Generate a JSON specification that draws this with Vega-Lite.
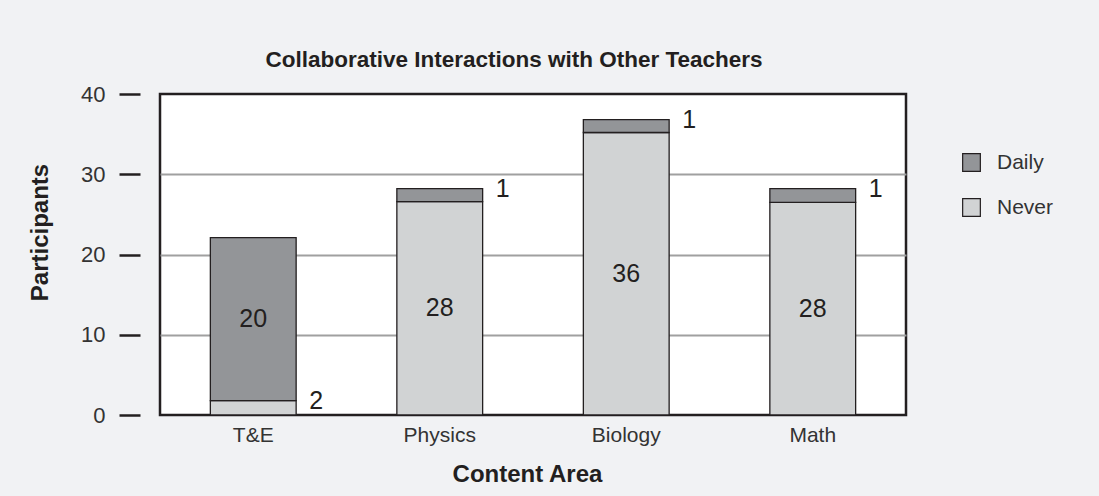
{
  "$schema": "https://vega.github.io/schema/vega-lite/v6.json",
  "autosize": {"type": "none"},
  "width": 746,
  "height": 321,
  "padding": {"left": 160, "top": 94, "right": 193, "bottom": 81},
  "background": "#f1f2f4",
  "config": {
    "view": {"fill": "#ffffff", "stroke": "#231f20", "strokeWidth": 2.5, "strokeOpacity": 1},
    "font": "Liberation Sans"
  },
  "title": {
    "text": "Collaborative Interactions with Other Teachers",
    "fontSize": 22.5,
    "fontWeight": "bold",
    "color": "#231f20",
    "anchor": "middle",
    "frame": "group",
    "baseline": "alphabetic",
    "offset": -6,
    "dx": -19
  },
  "data": {
    "values": [
      {"area": "T&E", "type": "Never", "value": 1.8, "label": "2"},
      {"area": "T&E", "type": "Daily", "value": 20.3, "label": "20"},
      {"area": "Physics", "type": "Never", "value": 26.6, "label": "28"},
      {"area": "Physics", "type": "Daily", "value": 1.6, "label": "1"},
      {"area": "Biology", "type": "Never", "value": 35.2, "label": "36"},
      {"area": "Biology", "type": "Daily", "value": 1.6, "label": "1"},
      {"area": "Math", "type": "Never", "value": 26.5, "label": "28"},
      {"area": "Math", "type": "Daily", "value": 1.7, "label": "1"}
    ]
  },
  "transform": [
    {"stack": "value", "groupby": ["area"], "sort": [{"field": "type", "order": "descending"}], "as": ["v0", "v1"]},
    {"calculate": "(datum.v0 + datum.v1) / 2", "as": "mid"}
  ],
  "layer": [
    {
      "mark": {"type": "bar", "stroke": "#231f20", "strokeWidth": 1.3},
      "encoding": {
        "x": {
          "field": "area", "type": "nominal", "sort": ["T&E", "Physics", "Biology", "Math"],
          "scale": {"paddingInner": 0.54, "paddingOuter": 0.27},
          "axis": {
            "title": "Content Area", "labelAngle": 0, "ticks": false, "domain": false,
            "labelFontSize": 21, "labelColor": "#333333", "labelPadding": 9,
            "titleFontSize": 24, "titleFontWeight": "bold", "titleColor": "#231f20", "titlePadding": 17,
            "titleX": 367
          }
        },
        "y": {
          "field": "v1", "type": "quantitative", "scale": {"domain": [0, 40]},
          "axis": {
            "title": "Participants", "values": [0, 10, 20, 30, 40], "offset": 20, "domain": false,
            "tickSize": 21, "tickWidth": 2.5, "tickColor": "#231f20",
            "labelFontSize": 22, "labelColor": "#333333", "labelPadding": 14,
            "grid": true, "gridColor": "#a0a0a0", "gridWidth": 2,
            "gridOpacity": {"condition": {"test": "datum.value === 0 || datum.value === 40", "value": 0}, "value": 1},
            "titleFontSize": 24, "titleFontWeight": "bold", "titleColor": "#231f20",
            "titleX": -100, "titleY": 138, "titleBaseline": "middle", "titleAngle": 270
          }
        },
        "y2": {"field": "v0"},
        "color": {
          "field": "type", "type": "nominal",
          "scale": {"domain": ["Daily", "Never"], "range": ["#939598", "#d1d3d4"]},
          "legend": {
            "title": null, "orient": "none", "legendX": 801, "legendY": 58,
            "symbolType": "square", "symbolSize": 313, "symbolStrokeColor": "#231f20", "symbolStrokeWidth": 1.2,
            "symbolOpacity": 1,
            "labelFontSize": 21, "labelColor": "#333333", "labelOffset": 15, "rowPadding": 22
          }
        }
      }
    },
    {
      "transform": [{"filter": "datum.value >= 5"}],
      "mark": {"type": "text", "fontSize": 25, "color": "#231f20", "baseline": "middle"},
      "encoding": {
        "x": {"field": "area", "type": "nominal", "sort": ["T&E", "Physics", "Biology", "Math"]},
        "y": {"field": "mid", "type": "quantitative"},
        "text": {"field": "label"}
      }
    },
    {
      "transform": [{"filter": "datum.value < 5"}],
      "mark": {"type": "text", "fontSize": 25, "color": "#231f20", "baseline": "middle", "align": "left", "dx": 56},
      "encoding": {
        "x": {"field": "area", "type": "nominal", "sort": ["T&E", "Physics", "Biology", "Math"]},
        "y": {"field": "v1", "type": "quantitative"},
        "text": {"field": "label"}
      }
    }
  ]
}
